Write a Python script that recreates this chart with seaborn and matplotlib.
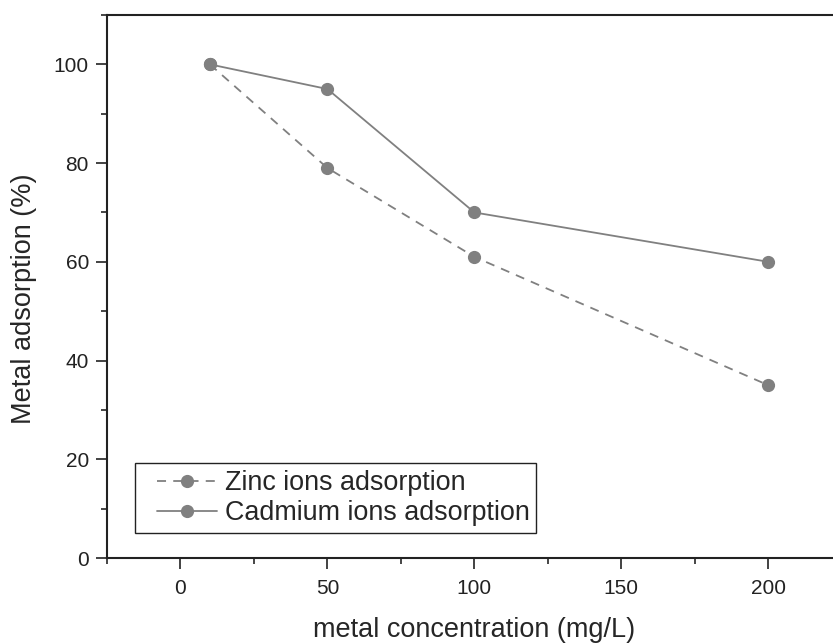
import matplotlib
matplotlib.use("Agg")
import matplotlib.pyplot as plt
import seaborn as sns
import pandas as pd
from matplotlib.ticker import MultipleLocator
from matplotlib.lines import Line2D
from matplotlib.legend_handler import HandlerLine2D

concentration = [10, 50, 100, 200]
zinc = [100, 79, 61, 35]
cadmium = [100, 95, 70, 60]

sns.set_style("ticks")
plt.rcParams['font.family'] = ['Liberation Sans', 'DejaVu Sans']

fig = plt.figure(figsize=(8.33, 6.43), dpi=100)
ax = fig.add_axes([107/833, 85/643, 1 - 107/833, (558-15)/643])

gray = "#808080"
sns.lineplot(x=concentration, y=zinc, ax=ax, color=gray, linestyle=(0, (5, 4)),
             linewidth=1.3, marker="o", markersize=9.5, markeredgewidth=0,
             label="Zinc ions adsorption")
sns.lineplot(x=concentration, y=cadmium, ax=ax, color=gray, linestyle="-",
             linewidth=1.3, marker="o", markersize=9.5, markeredgewidth=0,
             label="Cadmium ions adsorption")

ax.set_xlim(-25, 222)
ax.set_ylim(0, 110)
ax.xaxis.set_major_locator(MultipleLocator(50))
ax.xaxis.set_minor_locator(MultipleLocator(25))
ax.yaxis.set_major_locator(MultipleLocator(20))
ax.yaxis.set_minor_locator(MultipleLocator(10))
ax.tick_params(which="major", direction="out", length=8, width=1.2, labelsize=15, colors="#222222", pad=5)
ax.tick_params(axis="x", which="major", pad=7)
ax.tick_params(which="minor", direction="out", length=4.5, width=1.2)
for s in ["left", "bottom", "top"]:
    ax.spines[s].set_linewidth(1.5)
    ax.spines[s].set_color("#222222")
ax.spines["right"].set_visible(False)

ax.set_xlabel("metal concentration (mg/L)", fontsize=19.5)
ax.set_ylabel("Metal adsorption (%)", fontsize=19.5)
ax.xaxis.set_label_coords(0.5055, -0.108)
ax.yaxis.set_label_coords(-0.097, 0.477)

leg = ax.legend(loc="lower left", bbox_to_anchor=(28/726, 25/543), fontsize=19.4,
                frameon=True, fancybox=False, edgecolor="#222222", framealpha=1,
                handlelength=2.78, handletextpad=0.3, borderpad=0.25, labelspacing=0.16,
                borderaxespad=0, handler_map={Line2D: HandlerLine2D(xpad=0.55)})
leg.get_frame().set_linewidth(1.0)

fig.savefig("out.png", dpi=100)
